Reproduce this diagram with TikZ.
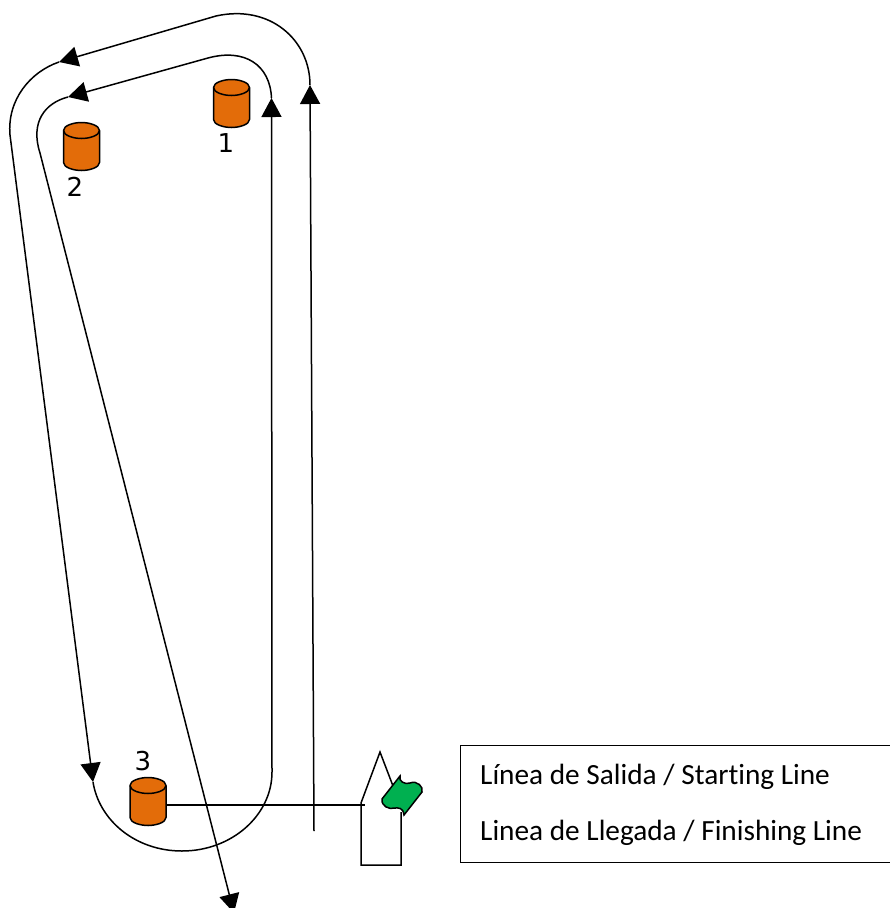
\documentclass[tikz,border=0pt]{standalone}
\usepackage{fontspec}
\setmainfont[Ligatures=NoCommon]{Carlito}
\newfontfamily\digitfont{DejaVu Sans}
\usetikzlibrary{arrows.meta}
\definecolor{buoyor}{HTML}{E36C09}
\definecolor{flaggr}{HTML}{00B050}
\tikzset{
  course/.style={draw=black,line width=1.5pt,-{Triangle[width=20pt,length=19pt]}},
  plainline/.style={draw=black,line width=1.5pt},
  lbl/.style={inner sep=0pt,font=\digitfont\fontsize{26}{30}\selectfont,text=black},
  legendtxt/.style={inner sep=0pt,anchor=west,font=\fontsize{29.3}{34}\selectfont,text=black},
  buoybody/.style={draw=black,line width=1.5pt,fill=buoyor,line join=round},
}
\newcommand{\buoy}[2]{%
  \path[buoybody] (#1-18,#2-16) -- (#1-18,#2+16)
    .. controls (#1-18,#2+21) and (#1-8,#2+24) .. (#1,#2+24)
    .. controls (#1+8,#2+24) and (#1+18,#2+21) .. (#1+18,#2+16)
    -- (#1+18,#2-16)
    .. controls (#1+18,#2-21) and (#1+8,#2-24) .. (#1,#2-24)
    .. controls (#1-8,#2-24) and (#1-18,#2-21) .. (#1-18,#2-16) -- cycle;
  \draw[line width=1.5pt] (#1-18,#2-16)
    .. controls (#1-18,#2-11) and (#1-8,#2-8) .. (#1,#2-8)
    .. controls (#1+8,#2-8) and (#1+18,#2-11) .. (#1+18,#2-16);
}
\begin{document}
\begin{tikzpicture}[x=1pt,y=-1pt]
\useasboundingbox (0,0) rectangle (890,908);
% buoys
\buoy{231.5}{103.5}
\buoy{81.5}{146.5}
\buoy{148}{801.5}
% labels
\node[lbl] (n1) at (226,143) {1};
\node[lbl] (n2) at (75,187) {2};
\node[lbl] (n3) at (143,761) {3};
% legend
\node[draw=black,line width=1.3pt,minimum width=430pt,minimum height=116.5pt,anchor=north west,inner sep=0pt] (legend) at (460,745) {};
\node[legendtxt] (t1) at (480,776.5) {Línea de Salida / Starting Line};
\node[legendtxt] (t2) at (480,832.5) {Linea de Llegada / Finishing Line};
% course
\coordinate (a0) at (314,831);
\coordinate (a1) at (310,85);
\path[course] (a0) -- (a1);
\coordinate (b1) at (59,62);
\path[course] (a1) .. controls (310,40) and (270,4) .. (216,16) -- (b1);
\coordinate (c1) at (93,782);
\path[course] (b1) .. controls (30,72) and (7,100) .. (10,135) -- (c1);
\coordinate (d1) at (271.5,98);
\path[course] (c1) .. controls (99,820) and (135,851) .. (182,851)
  .. controls (232,851) and (272,815) .. (272,772) -- (d1);
\coordinate (e1) at (68,97);
\path[course] (d1) .. controls (270,65) and (245,48) .. (208,58) -- (e1);
\coordinate (f1) at (234,913);
\path[course] (e1) .. controls (45,103) and (30,122) .. (40,153) -- (f1);
% start line
\coordinate (s0) at (166,805);
\coordinate (s1) at (365,805);
\path[plainline] (s0) -- (s1);
% boat
\path[plainline,line join=miter] (393,786) -- (380,752) -- (361,803) -- (361,865) -- (401,865) -- (401,812);
% flag
\path[draw=black,line width=1.5pt,fill=flaggr]
  (400,776) .. controls (398,781) and (405,785) .. (410,783)
  .. controls (417,780) and (424,787) .. (422,792)
  -- (404,815)
  .. controls (403,807) and (398,808) .. (395,808)
  .. controls (389,810) and (381,806) .. (382,799) -- cycle;
\end{tikzpicture}
\end{document}
